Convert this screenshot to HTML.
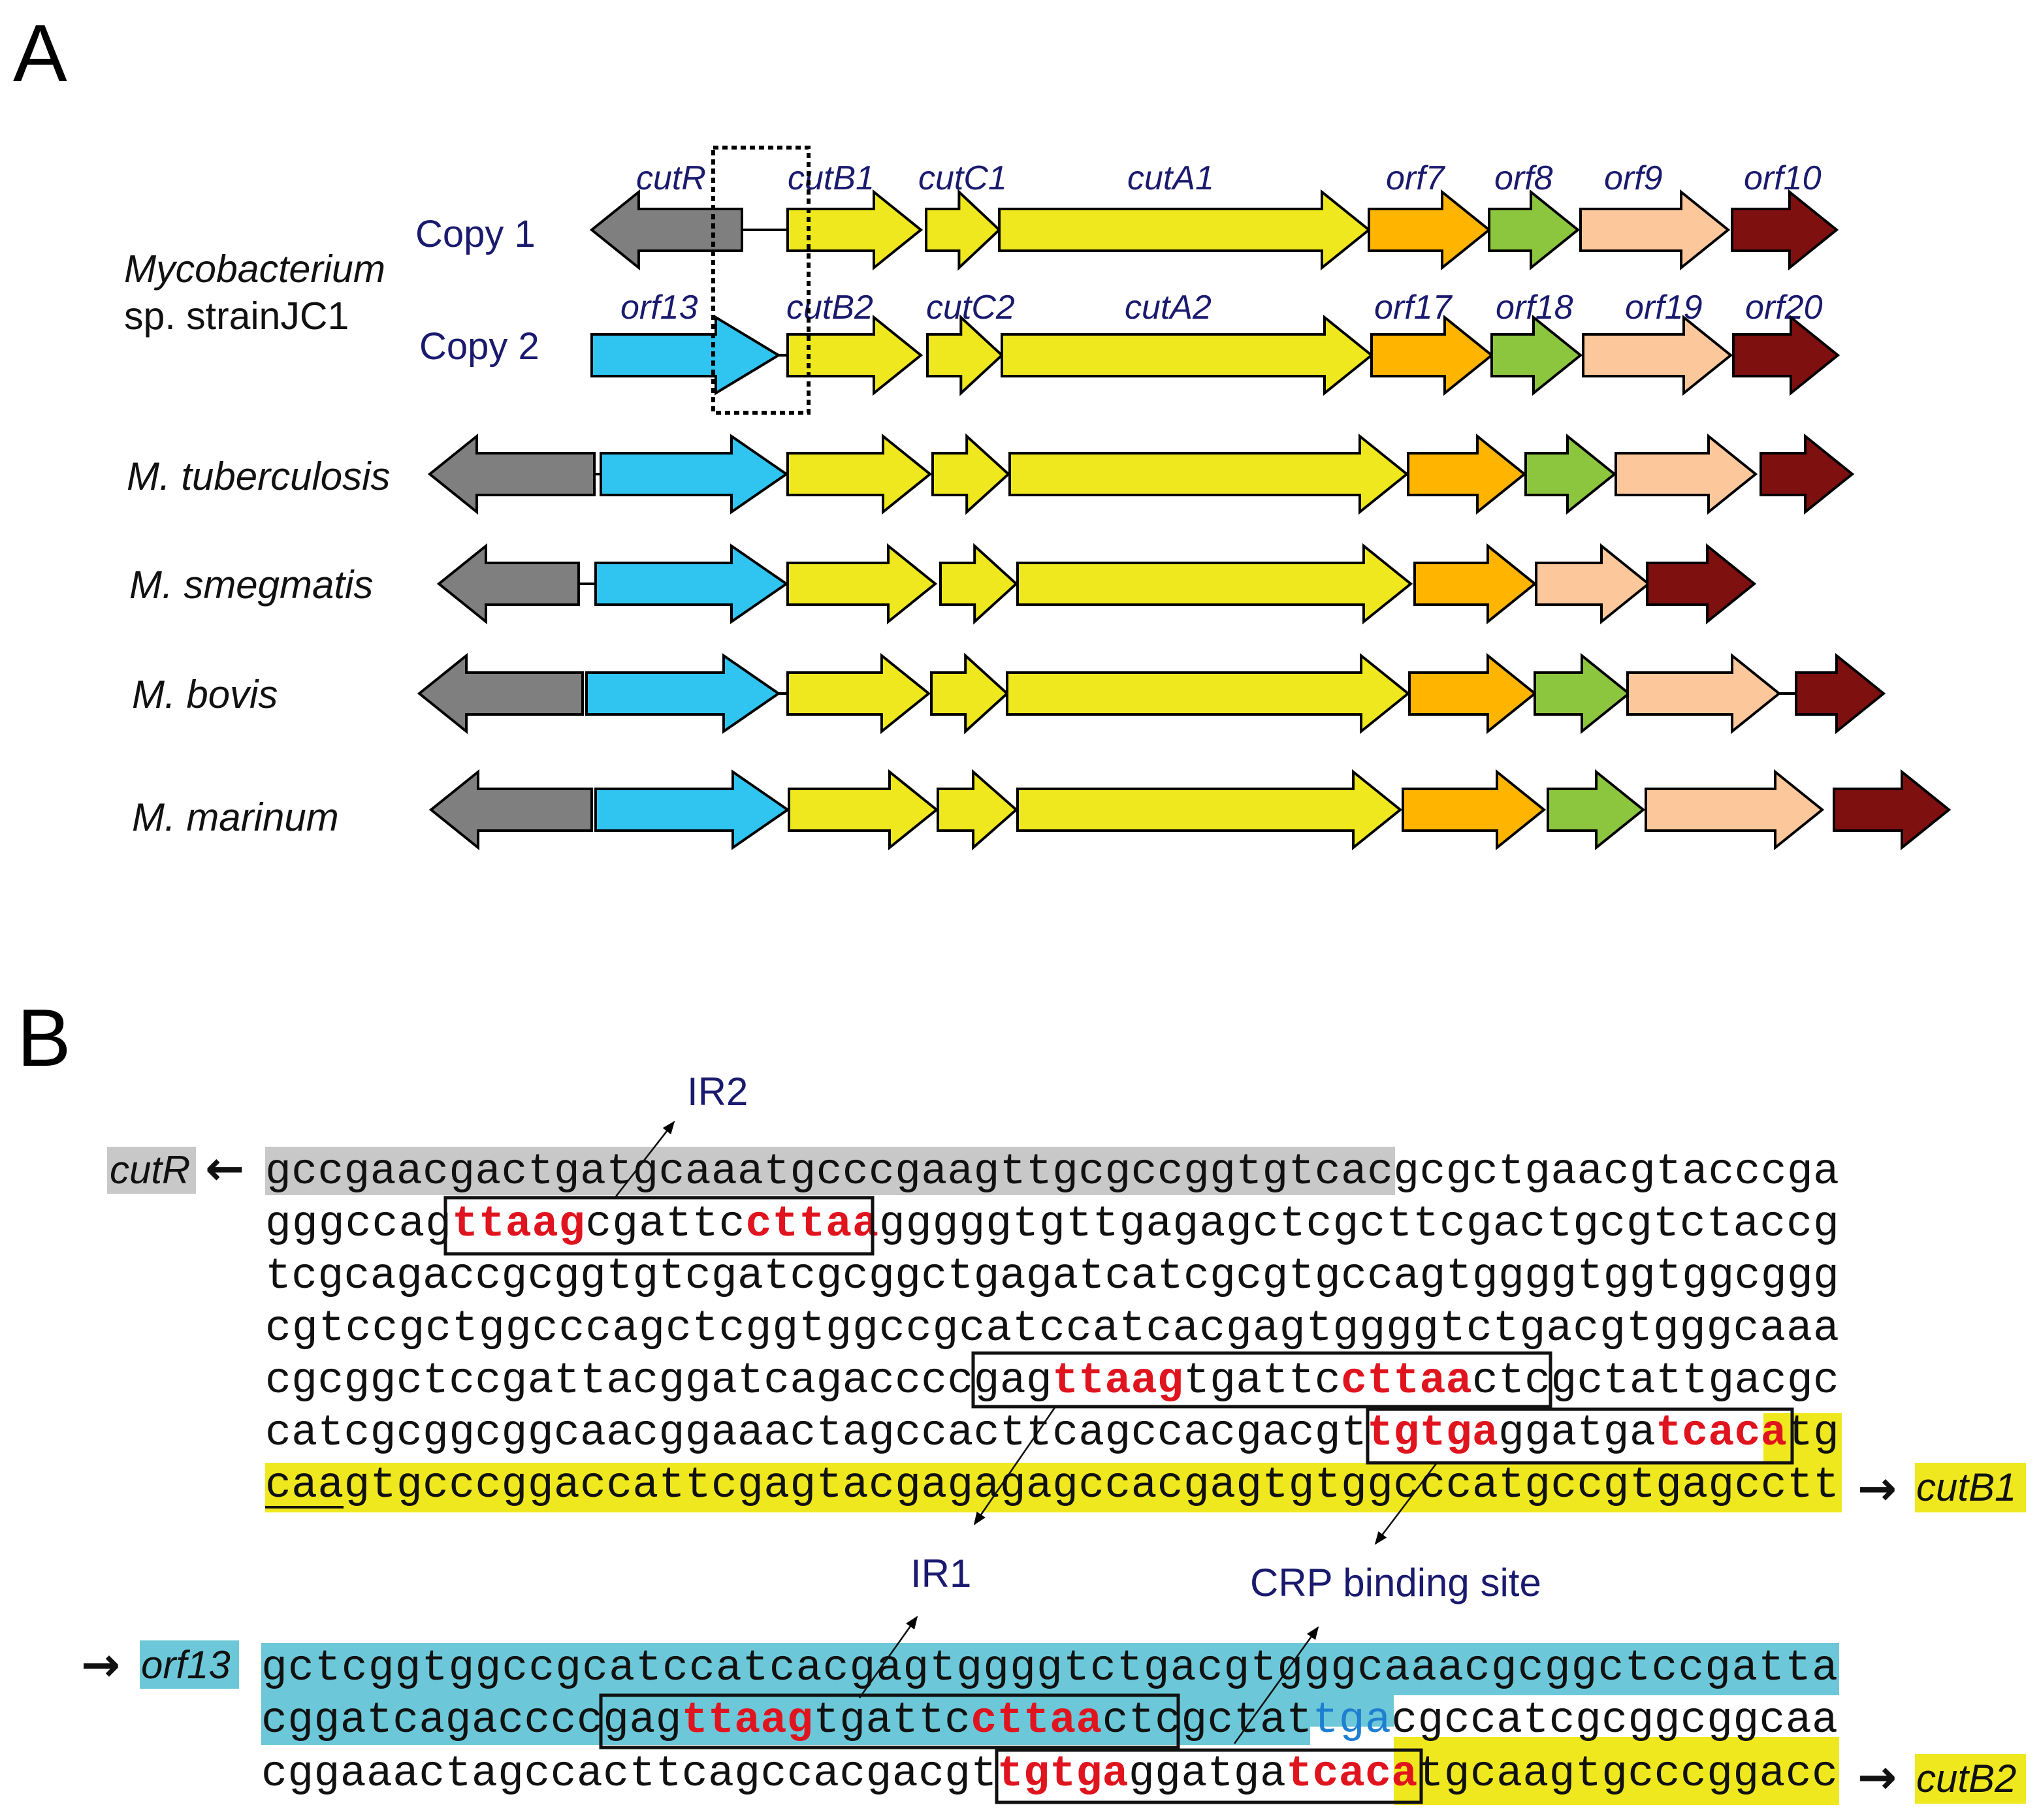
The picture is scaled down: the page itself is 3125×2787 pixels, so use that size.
<!DOCTYPE html>
<html><head><meta charset="utf-8">
<style>
html,body{margin:0;padding:0;background:#fff;}
svg{display:block;}
.g{font-family:"Liberation Sans",sans-serif;font-style:italic;fill:#1a1a6e;font-size:26px;}
.sp{font-family:"Liberation Sans",sans-serif;font-style:italic;fill:#111;font-size:30px;}
.seq{font-family:"Liberation Mono",monospace;font-size:33.3px;fill:#111;}
.r{fill:#e0141e;font-weight:bold;}
.nv{font-family:"Liberation Sans",sans-serif;fill:#1a1a6e;font-size:30px;}
.ar{font-family:"DejaVu Sans",sans-serif;font-size:36px;fill:#111;font-weight:bold;}
</style></head><body>
<svg id="s" width="3125" height="2787" viewBox="0 0 1562.5 1393.5" xmlns="http://www.w3.org/2000/svg">
<defs><marker id="ah" markerWidth="10" markerHeight="10" refX="9" refY="5" orient="auto" markerUnits="userSpaceOnUse"><path d="M0,1 L10,5 L0,9 Z" fill="#000"/></marker></defs>
<text x="10" y="62" font-family="Liberation Sans, sans-serif" font-size="62" fill="#000">A</text>
<text x="13" y="816" font-family="Liberation Sans, sans-serif" font-size="62" fill="#000">B</text>

<text x="318" y="189" font-family="Liberation Sans, sans-serif" font-size="29" fill="#1a1a6e">Copy 1</text>
<text x="321" y="275" font-family="Liberation Sans, sans-serif" font-size="29" fill="#1a1a6e">Copy 2</text>
<text x="95" y="216" class="sp" style="font-size:29.5px">Mycobacterium</text>
<text x="95" y="252" font-family="Liberation Sans, sans-serif" font-size="29.5" fill="#111">sp. strainJC1</text>
<text x="97" y="375" class="sp">M. tuberculosis</text>
<text x="99" y="458" class="sp">M. smegmatis</text>
<text x="101" y="542" class="sp">M. bovis</text>
<text x="101" y="636" class="sp">M. marinum</text>

<text x="487" y="145" class="g">cutR</text>
<text x="603" y="145" class="g">cutB1</text>
<text x="703" y="145" class="g">cutC1</text>
<text x="863" y="145" class="g">cutA1</text>
<text x="1061" y="145" class="g">orf7</text>
<text x="1144" y="145" class="g">orf8</text>
<text x="1228" y="145" class="g">orf9</text>
<text x="1335" y="145" class="g">orf10</text>
<text x="475" y="244" class="g">orf13</text>
<text x="602" y="244" class="g">cutB2</text>
<text x="709" y="244" class="g">cutC2</text>
<text x="861" y="244" class="g">cutA2</text>
<text x="1052" y="244" class="g">orf17</text>
<text x="1145" y="244" class="g">orf18</text>
<text x="1244" y="244" class="g">orf19</text>
<text x="1336" y="244" class="g">orf20</text>

<g id="genes" stroke="#000" stroke-width="2"></g>
<rect x="546" y="113" width="73" height="203" fill="none" stroke="#000" stroke-width="3" stroke-dasharray="4,3"/>

<text x="526" y="846" class="nv">IR2</text>
<rect x="82" y="878" width="68" height="36" fill="#c8c8c8"/>
<text x="84" y="906" class="sp">cutR</text>
<text x="157" y="907" class="ar">←</text>
<rect x="203" y="878" width="865" height="37" fill="#c8c8c8"/>
<rect x="1350" y="1082" width="60" height="40" fill="#f0e81e"/>
<rect x="203" y="1120" width="1207" height="38" fill="#f0e81e"/>
<line x1="203" y1="1154" x2="263" y2="1154" stroke="#111" stroke-width="2"/>

<text class="seq" x="203" y="906" textLength="1205" lengthAdjust="spacing">gccgaacgactgatgcaaatgcccgaagttgcgccggtgtcacgcgctgaacgtacccga</text>
<text class="seq" x="203" y="946" textLength="1205" lengthAdjust="spacing">gggccag<tspan class="r">ttaag</tspan>cgattc<tspan class="r">cttaa</tspan>gggggtgttgagagctcgcttcgactgcgtctaccg</text>
<text class="seq" x="203" y="986" textLength="1205" lengthAdjust="spacing">tcgcagaccgcggtgtcgatcgcggctgagatcatcgcgtgccagtggggtggtggcggg</text>
<text class="seq" x="203" y="1026" textLength="1205" lengthAdjust="spacing">cgtccgctggcccagctcggtggccgcatccatcacgagtggggtctgacgtgggcaaa</text>
<text class="seq" x="203" y="1066" textLength="1205" lengthAdjust="spacing">cgcggctccgattacggatcagaccccgag<tspan class="r">ttaag</tspan>tgattc<tspan class="r">cttaa</tspan>ctcgctattgacgc</text>
<text class="seq" x="203" y="1106" textLength="1205" lengthAdjust="spacing">catcgcggcggcaacggaaactagccacttcagccacgacgt<tspan class="r">tgtga</tspan>ggatga<tspan class="r">tcaca</tspan>tg</text>
<text class="seq" x="203" y="1146" textLength="1205" lengthAdjust="spacing">caagtgcccggaccattcgagtacgagagagccacgagtgtggcccatgccgtgagcctt</text>

<rect x="341" y="917" width="327" height="43" fill="none" stroke="#111" stroke-width="2.5"/>
<rect x="745" y="1036" width="442" height="41" fill="none" stroke="#111" stroke-width="2.5"/>
<rect x="1047" y="1079" width="325" height="41" fill="none" stroke="#111" stroke-width="2.5"/>

<line x1="470" y1="918" x2="516" y2="859" stroke="#111" stroke-width="1.3" marker-end="url(#ah)"/>
<line x1="808" y1="1077" x2="746" y2="1167" stroke="#111" stroke-width="1.3" marker-end="url(#ah)"/>
<line x1="1100" y1="1120" x2="1053" y2="1182" stroke="#111" stroke-width="1.3" marker-end="url(#ah)"/>

<text x="1422" y="1152" class="ar">→</text>
<rect x="1466" y="1120" width="85" height="38" fill="#f0e81e"/>
<text x="1467" y="1149" class="sp">cutB1</text>

<text x="697" y="1215" class="nv">IR1</text>
<text x="957" y="1222" class="nv">CRP binding site</text>

<rect x="200" y="1258" width="1208" height="40" fill="#6cc8d8"/>
<rect x="200" y="1296" width="803" height="40" fill="#6cc8d8"/>
<rect x="1003" y="1296" width="64" height="26" fill="#6cc8d8"/>
<rect x="1067" y="1330" width="341" height="52" fill="#f0e81e"/>
<rect x="107" y="1256" width="76" height="37" fill="#6cc8d8"/>
<text x="108" y="1285" class="sp">orf13</text>
<text x="62" y="1287" class="ar">→</text>

<text class="seq" x="200" y="1286" textLength="1207" lengthAdjust="spacing">gctcggtggccgcatccatcacgagtggggtctgacgtgggcaaacgcggctccgatta</text>
<text class="seq" x="200" y="1326" textLength="1207" lengthAdjust="spacing">cggatcagaccccgag<tspan class="r">ttaag</tspan>tgattc<tspan class="r">cttaa</tspan>ctcgctat<tspan fill="#1e7fd0">tga</tspan>cgccatcgcggcggcaa</text>
<text class="seq" x="200" y="1367" textLength="1207" lengthAdjust="spacing">cggaaactagccacttcagccacgacgt<tspan class="r">tgtga</tspan>ggatga<tspan class="r">tcaca</tspan>tgcaagtgcccggacc</text>

<rect x="460" y="1298" width="442" height="40" fill="none" stroke="#111" stroke-width="2.5"/>
<rect x="763" y="1340" width="325" height="40" fill="none" stroke="#111" stroke-width="2.5"/>
<line x1="658" y1="1300" x2="702" y2="1238" stroke="#111" stroke-width="1.3" marker-end="url(#ah)"/>
<line x1="945" y1="1335" x2="1009" y2="1246" stroke="#111" stroke-width="1.3" marker-end="url(#ah)"/>

<text x="1422" y="1373" class="ar">→</text>
<rect x="1466" y="1343" width="85" height="38" fill="#f0e81e"/>
<text x="1467" y="1372" class="sp">cutB2</text>
</svg>
<script>
(function(){
var C={gr:"#7f7f7f",y:"#f0e81e",b:"#30c4f0",o:"#ffb400",g:"#8cc63f",p:"#fcc89b",d:"#7f1010"};
var rows=[
[176,[["L",453,568,"gr"],["-",568,603],["R",603,705,"y"],["R",709,765,"y"],["R",765,1048,"y"],["R",1048,1140,"o"],["R",1140,1208,"g"],["R",1210,1323,"p"],["R",1326,1406,"d"]]],
[272,[["R",453,596,"b",48],["-",596,603],["R",603,705,"y"],["R",710,767,"y"],["R",767,1050,"y"],["R",1050,1142,"o"],["R",1142,1210,"g"],["R",1212,1325,"p"],["R",1327,1407,"d"]]],
[363,[["L",329,455,"gr"],["-",455,460],["R",460,602,"b",42],["R",603,712,"y"],["R",714,772,"y"],["R",773,1077,"y"],["R",1078,1167,"o"],["R",1168,1236,"g"],["R",1237,1344,"p"],["R",1348,1418,"d"]]],
[447,[["L",336,443,"gr"],["-",443,456],["R",456,602,"b",42],["R",603,716,"y"],["R",720,778,"y"],["R",779,1080,"y"],["R",1083,1175,"o"],["R",1176,1262,"p"],["R",1261,1343,"d"]]],
[531,[["L",321,446,"gr"],["R",449,596,"b",42],["-",596,603],["R",603,711,"y"],["R",713,771,"y"],["R",771,1078,"y"],["R",1079,1175,"o"],["R",1175,1247,"g"],["R",1246,1362,"p"],["-",1362,1375],["R",1375,1442,"d"]]],
[620,[["L",330,453,"gr"],["R",456,603,"b",42],["R",604,717,"y"],["R",718,778,"y"],["R",779,1072,"y"],["R",1074,1182,"o"],["R",1185,1258,"g"],["R",1260,1395,"p"],["R",1404,1492,"d"]]]
];
var g=document.getElementById("genes"),s="";
rows.forEach(function(r){var yc=r[0];r[1].forEach(function(a){
 if(a[0]=="-"){s+='<line x1="'+a[1]+'" y1="'+yc+'" x2="'+a[2]+'" y2="'+yc+'"/>';return;}
 var x1=a[1],x2=a[2],h=a[4]||Math.min(36,(x2-x1)*0.55),b=16,H=29,p;
 if(a[0]=="R")p=[[x1,yc-b],[x2-h,yc-b],[x2-h,yc-H],[x2,yc],[x2-h,yc+H],[x2-h,yc+b],[x1,yc+b]];
 else p=[[x2,yc-b],[x1+h,yc-b],[x1+h,yc-H],[x1,yc],[x1+h,yc+H],[x1+h,yc+b],[x2,yc+b]];
 s+='<polygon fill="'+C[a[3]]+'" points="'+p.map(function(q){return q.join(",")}).join(" ")+'"/>';
});});
g.innerHTML=s;
})();
</script>
</body></html>
